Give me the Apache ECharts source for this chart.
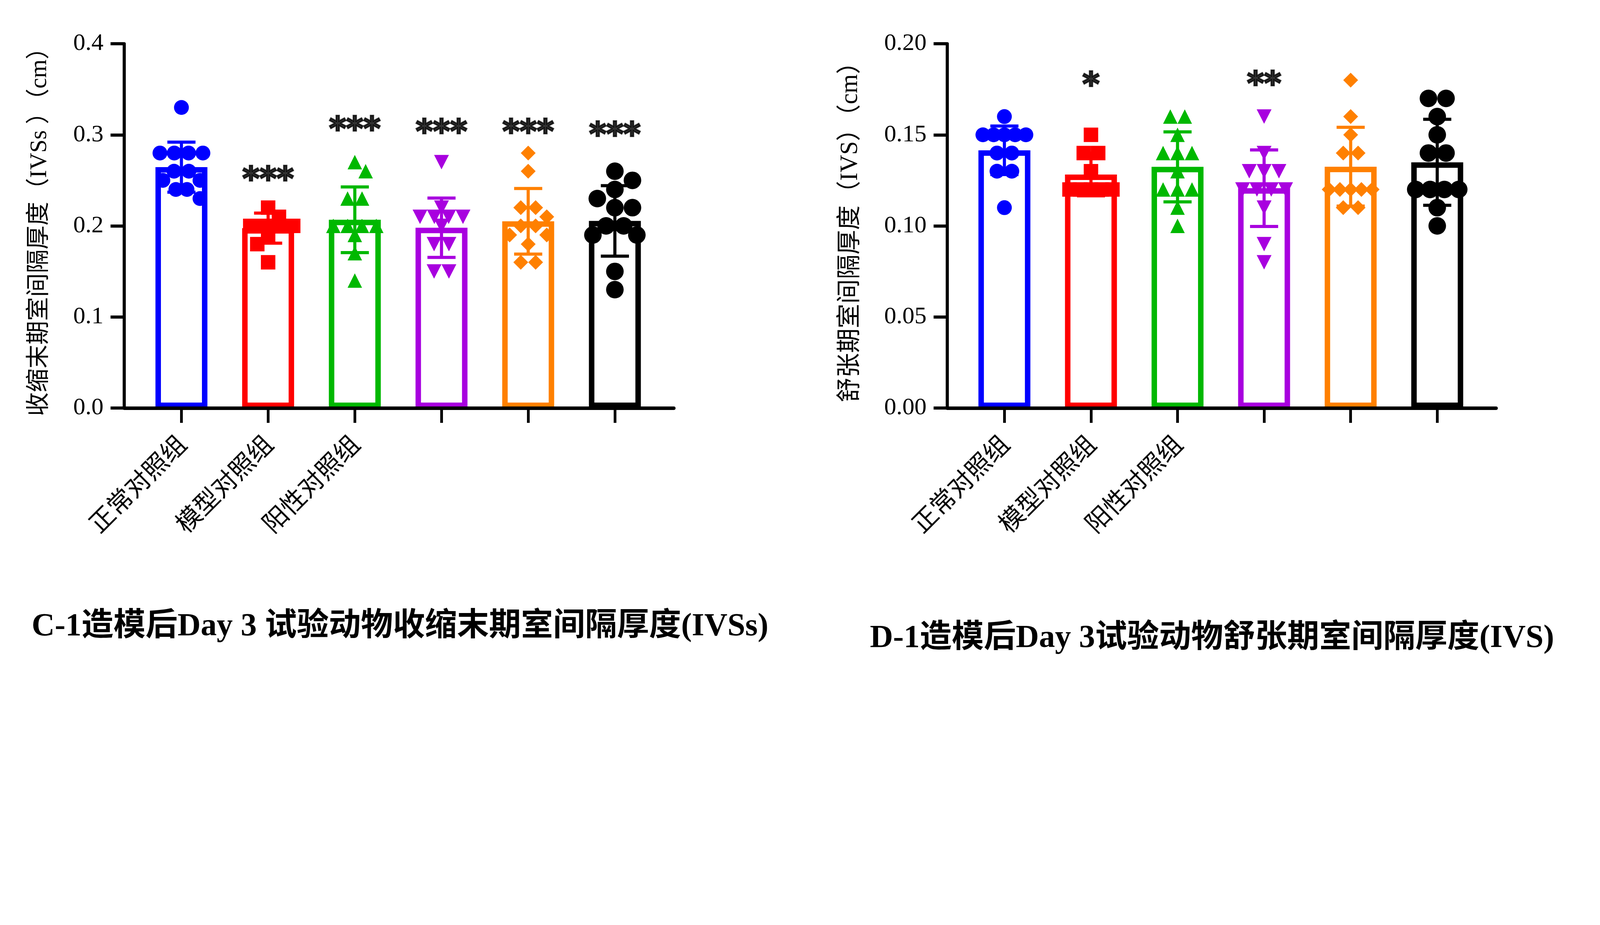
<!DOCTYPE html>
<html><head><meta charset="utf-8">
<script src="https://cdn.jsdelivr.net/npm/echarts@6/dist/echarts.min.js"></script>
<style>html,body{margin:0;padding:0;background:#fff}#c{width:4199px;height:2369px}</style>
</head><body><div id="c"></div>
<script>
// ---------- data ----------
const categories = ['正常对照组', '模型对照组', '阳性对照组', '', '', ''];

// Panel C : end-systolic interventricular septum thickness IVSs (cm)
const ivssNormal   = [0.33, 0.28, 0.28, 0.28, 0.28, 0.26, 0.26, 0.25, 0.25, 0.24, 0.24, 0.23];
const ivssModel    = [0.22, 0.21, 0.20, 0.20, 0.20, 0.20, 0.20, 0.19, 0.18, 0.16];
const ivssPositive = [0.27, 0.26, 0.23, 0.23, 0.20, 0.20, 0.20, 0.20, 0.19, 0.17, 0.14];
const ivssGroup4   = [0.27, 0.22, 0.21, 0.21, 0.21, 0.21, 0.20, 0.18, 0.18, 0.15, 0.15];
const ivssGroup5   = [0.28, 0.26, 0.22, 0.22, 0.21, 0.20, 0.20, 0.19, 0.19, 0.18, 0.16, 0.16];
const ivssGroup6   = [0.26, 0.25, 0.24, 0.23, 0.22, 0.22, 0.20, 0.20, 0.19, 0.19, 0.15, 0.13];
const ivssMean = [0.2645, 0.1975, 0.2067, 0.1980, 0.2050, 0.2055];
const ivssSD   = [0.0275, 0.0165, 0.0361, 0.0326, 0.0360, 0.0387];
const ivssSig   = ['', '***', '***', '***', '***', '***'];
const ivssSigAt = [null, 0.2577, 0.3123, 0.3095, 0.3095, 0.3065];
const ivssTicks = [0, 0.1, 0.2, 0.3, 0.4];

// Panel D : diastolic interventricular septum thickness IVS (cm)
const ivsNormal   = [0.16, 0.15, 0.15, 0.15, 0.15, 0.15, 0.14, 0.14, 0.13, 0.13, 0.11];
const ivsModel    = [0.15, 0.14, 0.14, 0.13, 0.12, 0.12, 0.12, 0.12, 0.12];
const ivsPositive = [0.16, 0.16, 0.15, 0.14, 0.14, 0.14, 0.13, 0.12, 0.12, 0.12, 0.11, 0.10];
const ivsGroup4   = [0.16, 0.14, 0.13, 0.13, 0.13, 0.12, 0.12, 0.12, 0.12, 0.11, 0.09, 0.08];
const ivsGroup5   = [0.18, 0.16, 0.15, 0.14, 0.14, 0.12, 0.12, 0.12, 0.12, 0.12, 0.11, 0.11];
const ivsGroup6   = [0.17, 0.17, 0.16, 0.15, 0.14, 0.14, 0.12, 0.12, 0.12, 0.12, 0.11, 0.10];
const ivsMean = [0.1415, 0.1282, 0.1324, 0.1207, 0.1325, 0.1349];
const ivsSD   = [0.0133, 0.0117, 0.0192, 0.0210, 0.0216, 0.0236];
const ivsSig   = ['', '*', '', '**', '', ''];
const ivsSigAt = [null, 0.1806, null, 0.1810, null, null];
const ivsTicks = [0, 0.05, 0.10, 0.15, 0.20];

const titleC = 'C-1造模后Day 3 试验动物收缩末期室间隔厚度(IVSs)';
const titleD = 'D-1造模后Day 3试验动物舒张期室间隔厚度(IVS)';
const nameC = '收缩末期室间隔厚度（IVSs ）（cm）';
const nameD = '舒张期室间隔厚度（IVS）（cm）';

// ---------- styles ----------
const colors  = ['#0000FF', '#FF0000', '#00B800', '#A800DF', '#FF8000', '#000000'];
const symbols = ['circle', 'rect', 'triangle', 'triangle', 'diamond', 'circle'];
const symRot  = [0, 0, 0, 180, 0, 0];
const symSize = [[38, 38], [37, 37], [37, 37], [38, 37], [38, 38], [45, 45]];
const serifCJK = "'Liberation Serif','Noto Sans CJK SC',serif";

const panels = [
  {groups: [ivssNormal, ivssModel, ivssPositive, ivssGroup4, ivssGroup5, ivssGroup6],
   mean: ivssMean, sd: ivssSD, sig: ivssSig, sigAt: ivssSigAt, ticks: ivssTicks, digits: 1,
   name: nameC, nameGap: 186, nameSize: 61},
  {groups: [ivsNormal, ivsModel, ivsPositive, ivsGroup4, ivsGroup5, ivsGroup6],
   mean: ivsMean, sd: ivsSD, sig: ivsSig, sigAt: ivsSigAt, ticks: ivsTicks, digits: 2,
   name: nameD, nameGap: 216, nameSize: 63}
];

// ---------- chart ----------
const chart = echarts.init(document.getElementById('c'), null, {renderer: 'canvas', width: 4199, height: 2369});

function xAxisCfg(gi) {
  return {
    type: 'value', gridIndex: gi, min: -0.66, max: 5.68, z: 10,
    axisLine: {show: true, onZero: true, lineStyle: {color: '#000', width: 9}},
    axisTick: {show: true, customValues: [0, 1, 2, 3, 4, 5], length: 38, inside: false,
               lineStyle: {color: '#000', width: 7}},
    axisLabel: {show: true, customValues: [0, 1, 2], formatter: v => categories[Math.round(v)],
                rotate: 45, margin: 80, fontSize: 64, color: '#000', fontFamily: "'Noto Sans CJK SC'"},
    splitLine: {show: false}
  };
}
function yAxisCfg(gi, p) {
  const t = p.ticks;
  return {
    type: 'value', gridIndex: gi, min: t[0], max: t[t.length - 1], interval: t[1] - t[0], z: 10,
    axisLine: {show: true, onZero: false, lineStyle: {color: '#000', width: 8}},
    axisTick: {show: true, length: 35, lineStyle: {color: '#000', width: 8}},
    axisLabel: {show: true, margin: 53, fontSize: 62, color: '#000',
                fontFamily: "'Liberation Serif',serif", formatter: v => v.toFixed(p.digits)},
    splitLine: {show: false},
    name: p.name, nameLocation: 'middle', nameGap: p.nameGap, nameRotate: 90,
    nameTextStyle: {fontSize: p.nameSize, color: '#000', fontFamily: serifCJK}
  };
}

const option = {
  animation: false,
  backgroundColor: '#fff',
  textStyle: {fontFamily: serifCJK},
  title: [
    {text: titleC, left: 76, top: 1560,
     textStyle: {fontSize: 82, fontWeight: 'bold', color: '#000', fontFamily: serifCJK}},
    {text: titleD, left: 2222, top: 1590,
     textStyle: {fontSize: 82, fontWeight: 'bold', color: '#000', fontFamily: serifCJK}}
  ],
  grid: [
    {left: 318, top: 112, width: 1407, height: 933},
    {left: 2425, top: 112, width: 1405, height: 933}
  ],
  xAxis: [xAxisCfg(0), xAxisCfg(1)],
  yAxis: [yAxisCfg(0, panels[0]), yAxisCfg(1, panels[1])],
  series: []
};
chart.setOption(option);

// beeswarm layout in pixel space (GraphPad-like rows)
function swarm(values, pxPerY, size) {
  const thr = size * 0.92, stepC = size / 4, maxHalf = 60, maxHalfC = 55;
  const order = values.map((v, i) => i).sort((a, b) => values[b] - values[a] || a - b);
  const rows = [];
  order.forEach(i => {
    const r = rows[rows.length - 1];
    if (r && Math.abs(values[r[0]] - values[i]) < 1e-9) r.push(i); else rows.push([i]);
  });
  const placed = [];
  const off = values.map(() => 0);
  let sum = 0;
  const minDist = (x, y, extra) => {
    let d = Infinity;
    for (const q of placed) d = Math.min(d, Math.hypot(x - q.x, y - q.y));
    for (const q of extra) d = Math.min(d, Math.hypot(x - q.x, y - q.y));
    return d;
  };
  rows.forEach(row => {
    const n = row.length, y = values[row[0]] * pxPerY;
    let xs;
    if ((n - 1) * size > 2 * maxHalfC) {
      const step = 2 * maxHalfC / (n - 1);
      const base = row.map((_, j) => (j - (n - 1) / 2) * step);
      let best = -1; xs = base;
      for (const k of [0, 1, -1, 2, -2]) {
        const c = base.map(b => b + k * size / 4);
        const d = Math.min(...c.map(x => minDist(x, y, [])));
        if (d >= thr) { xs = c; break; }
        if (d > best + 0.5) { best = d; xs = c; }
      }
    } else {
      const cur = [];
      for (let j = 0; j < n; j++) {
        const s0 = sum + cur.reduce((a, q) => a + q.x, 0);
        const cands = [0];
        for (let k = 1; k * stepC <= maxHalf + 0.01; k++) {
          const s = k * stepC;
          if (s0 > 0) cands.push(-s, s); else cands.push(s, -s);
        }
        let pick = null, best = -1, bpick = 0;
        for (const x of cands) {
          const d = minDist(x, y, cur);
          if (d >= thr) { pick = x; break; }
          if (d > best + 0.5) { best = d; bpick = x; }
        }
        if (pick === null) pick = bpick;
        cur.push({x: pick, y});
      }
      xs = cur.map(q => q.x);
      const mean = xs.reduce((a, b) => a + b, 0) / n;
      if (Math.abs(mean) > 0.01) {
        const rc = xs.map(x => x - mean);
        const dO = Math.min(...xs.map(x => minDist(x, y, [])));
        const dR = Math.min(...rc.map(x => minDist(x, y, [])));
        if (dR >= thr || dR >= dO) xs = rc;
      }
    }
    row.forEach((i, j) => { off[i] = xs[j]; placed.push({x: xs[j], y}); sum += xs[j]; });
  });
  return off;
}

const series = [];
panels.forEach((p, gi) => {
  const a = chart.convertToPixel({gridIndex: gi}, [0, 0]);
  const b = chart.convertToPixel({gridIndex: gi}, [1, p.ticks[1]]);
  const pxPerX = b[0] - a[0];
  const pxPerY = (a[1] - b[1]) / p.ticks[1];

  series.push({
    type: 'bar', xAxisIndex: gi, yAxisIndex: gi, barWidth: 133, z: 2, silent: true,
    data: p.mean.map((m, i) => ({value: [i, m],
      itemStyle: {color: '#ffffff', borderColor: colors[i], borderWidth: 14}}))
  });
  series.push({
    type: 'custom', xAxisIndex: gi, yAxisIndex: gi, z: 3, silent: true,
    data: p.mean.map((m, i) => [i, m, p.sd[i]]),
    encode: {x: 0, y: 1},
    renderItem: (params, api) => {
      const i = api.value(0), m = api.value(1), s = api.value(2);
      const t = api.coord([i, m + s]), bt = api.coord([i, m - s]);
      const st = {stroke: colors[params.dataIndex], lineWidth: 8};
      const hw = 36;
      return {type: 'group', children: [
        {type: 'line', shape: {x1: t[0], y1: t[1], x2: bt[0], y2: bt[1]}, style: st},
        {type: 'line', shape: {x1: t[0] - hw, y1: t[1], x2: t[0] + hw, y2: t[1]}, style: st},
        {type: 'line', shape: {x1: bt[0] - hw, y1: bt[1], x2: bt[0] + hw, y2: bt[1]}, style: st}
      ]};
    }
  });
  p.groups.forEach((vals, i) => {
    const off = swarm(vals, pxPerY, symSize[i][0]);
    series.push({
      type: 'scatter', xAxisIndex: gi, yAxisIndex: gi, z: 4, silent: true,
      symbol: symbols[i], symbolSize: symSize[i], symbolRotate: symRot[i],
      itemStyle: {color: colors[i], opacity: 1},
      data: vals.map((v, k) => [i + off[k] / pxPerX, v])
    });
  });
  series.push({
    type: 'scatter', xAxisIndex: gi, yAxisIndex: gi, z: 5, silent: true,
    symbolSize: 1, itemStyle: {color: 'rgba(0,0,0,0)'},
    data: p.sigAt.map((v, i) => (v == null ? null : [i, v])).filter(d => d),
    label: {show: true, position: 'inside', offset: [0, 20],
            formatter: q => p.sig[q.value[0]],
            fontSize: 84, fontWeight: 'bold', color: '#000',
            textBorderColor: '#000', textBorderWidth: 4,
            fontFamily: "'DejaVu Sans',sans-serif"}
  });
});

option.series = series;
chart.setOption(option, true);
</script></body></html>
